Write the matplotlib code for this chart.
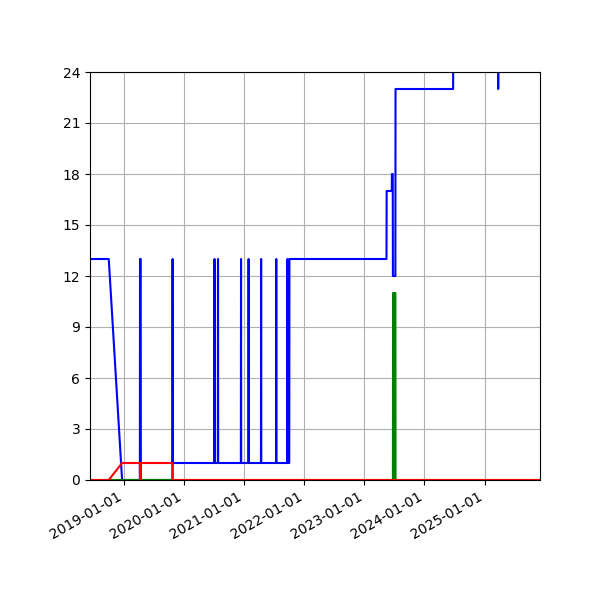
import numpy as np
import pandas as pd
import matplotlib
matplotlib.use("Agg")
import matplotlib.pyplot as plt
import matplotlib.dates as mdates

# blue series (dates / values)
blue_dates = ["2018-06-08", "2018-09-30", "2018-12-20", "2019-04-07", "2019-04-08",
              "2019-04-12", "2019-04-13", "2019-10-22", "2019-10-23", "2019-10-24",
              "2020-07-03", "2020-07-04", "2020-07-05", "2020-07-24", "2020-07-25",
              "2020-07-26", "2020-12-11", "2020-12-12", "2020-12-13", "2021-01-26",
              "2021-01-27", "2021-01-28", "2021-04-12", "2021-04-13", "2021-04-14",
              "2021-07-13", "2021-07-14", "2021-07-15", "2021-09-19", "2021-09-20",
              "2021-09-21", "2021-10-01", "2021-10-02", "2023-05-15", "2023-05-16",
              "2023-06-16", "2023-06-17", "2023-06-22", "2023-06-23", "2023-07-08",
              "2023-07-09", "2024-06-23", "2024-06-24", "2025-03-23", "2025-03-24",
              "2025-03-25", "2025-12-03"]
blue_values = [13, 13, 0, 0, 13,
               13, 0, 0, 13, 1,
               1, 13, 1, 1, 13,
               1, 1, 13, 1, 1,
               13, 1, 1, 13, 1,
               1, 13, 1, 1, 13,
               1, 1, 13, 13, 17,
               17, 18, 18, 12, 12,
               23, 23, 27, 27, 23,
               27, 27]

# red series
red_dates = ["2018-06-08", "2018-09-30", "2018-12-20", "2019-04-07", "2019-04-08",
             "2019-04-12", "2019-04-13", "2019-10-23", "2019-10-24", "2025-12-03"]
red_values = [0, 0, 1, 1, 0, 0, 1, 1, 0, 0]

# green series
green_dates = ["2018-06-08", "2023-06-23", "2023-06-24", "2023-06-28", "2023-06-29",
               "2023-06-30", "2023-07-03", "2023-07-04", "2023-07-05", "2023-07-08",
               "2023-07-09", "2025-12-03"]
green_values = [0, 0, 11, 11, 0, 11, 11, 0, 11, 11, 0, 0]

blue_dates = pd.to_datetime(blue_dates)
red_dates = pd.to_datetime(red_dates)
green_dates = pd.to_datetime(green_dates)

fig, ax = plt.subplots(figsize=(6, 6), dpi=100)

ax.plot(blue_dates, blue_values, color="blue")
ax.plot(green_dates, green_values, color="green")
ax.plot(red_dates, red_values, color="red")

ax.set_xlim(blue_dates[0], blue_dates[-1])
ax.set_ylim(0, 24)
ax.set_yticks(np.arange(0, 25, 3))
ax.xaxis.set_major_locator(mdates.YearLocator())
ax.xaxis.set_major_formatter(mdates.DateFormatter("%Y-%m-%d"))
ax.grid(True)
fig.autofmt_xdate()
fig.subplots_adjust(left=0.15, right=0.9, top=0.88, bottom=0.2)

plt.savefig("out.png")
